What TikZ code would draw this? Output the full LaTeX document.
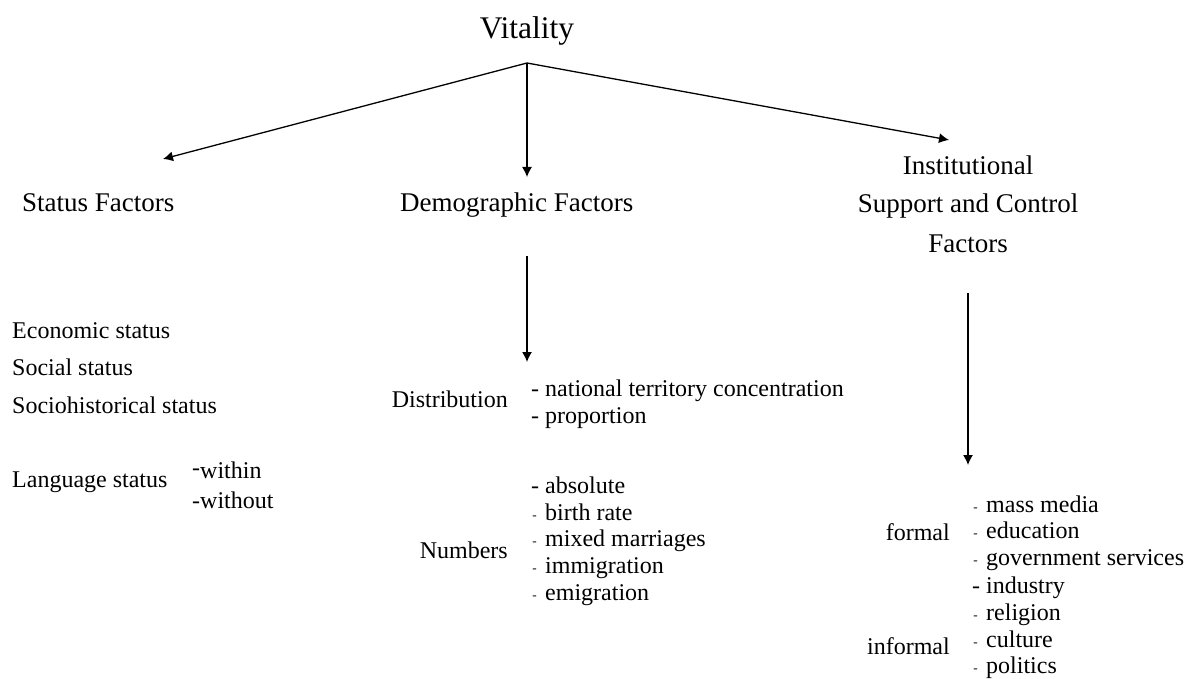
\documentclass[tikz,border=0pt]{standalone}
\usepackage{fontspec}
\setmainfont{Liberation Serif}
\usepackage{graphicx}
\usetikzlibrary{arrows.meta}
\newcommand\sdash{\makebox[0.583em][l]{\hspace{0.05em}\raisebox{0.02em}{\scalebox{0.55}{-}}}}
\tikzset{
  lbl/.style={inner sep=0pt, anchor=base west, font=\fontsize{24}{28}\selectfont},
  lble/.style={inner sep=0pt, anchor=base east, font=\fontsize{24}{28}\selectfont},
  head/.style={inner sep=0pt, anchor=base, font=\fontsize{27}{32}\selectfont},
  headw/.style={inner sep=0pt, anchor=base west, font=\fontsize{27}{32}\selectfont},
  arr/.style={line width=1.3pt, -{Latex[length=10pt,width=10pt]}},
}
\begin{document}
\begin{tikzpicture}[x=1pt,y=-1pt]
\useasboundingbox (0,0) rectangle (1186,679);
% title
\node[inner sep=0pt, anchor=base, font=\fontsize{31.5}{36}\selectfont] (vit) at (527,39) {Vitality};
\coordinate (apex) at (527,63);
\coordinate (tS) at (163,159);
\coordinate (tD) at (527,177);
\coordinate (tI) at (949,140);
% headings
\node[headw] (status) at (22,212) {Status Factors};
\node[headw] (demo) at (400,212) {Demographic Factors};
\node[head] (inst1) at (968,175) {Institutional};
\node[head] (inst2) at (968,213) {Support and Control};
\node[head] (inst3) at (968,252) {Factors};
% arrows from apex
\draw[arr] (apex) -- (tS);
\draw[arr] (apex) -- (tD);
\draw[arr] (apex) -- (tI);
% status list
\node[lbl] (econ) at (12,338) {Economic status};
\node[lbl] (soc) at (12,375) {Social status};
\node[lbl] (sochist) at (12,413) {Sociohistorical status};
\node[lbl] (lang) at (12,487) {Language status};
\node[lbl] (within) at (192,478) {\raisebox{0.12em}{-}within};
\node[lbl] (without) at (192,508) {-without};
% demographic
\coordinate (dA) at (527,256);
\coordinate (dB) at (527,362);
\draw[arr] (dA) -- (dB);
\node[lble] (distr) at (508,407) {Distribution};
\node[lbl] (nat) at (531,396) {- national territory concentration};
\node[lbl] (prop) at (531,423) {- proportion};
\node[lble] (numbers) at (508,558) {Numbers};
\node[lbl] (abs) at (531,493) {- absolute};
\node[lbl] (birth) at (531,520) {\sdash birth rate};
\node[lbl] (mixed) at (531,546) {\sdash mixed marriages};
\node[lbl] (immi) at (531,573) {\sdash immigration};
\node[lbl] (emi) at (531,600) {\sdash emigration};
% institutional
\coordinate (iA) at (968,293);
\coordinate (iB) at (968,465);
\draw[arr] (iA) -- (iB);
\node[lble] (formal) at (950,540) {formal};
\node[lble] (informal) at (950,654) {informal};
\node[lbl] (mass) at (972,512) {\sdash mass media};
\node[lbl] (edu) at (972,538) {\sdash education};
\node[lbl] (gov) at (972,565) {\sdash government services};
\node[lbl] (ind) at (972,593) {- industry};
\node[lbl] (rel) at (972,620) {\sdash religion};
\node[lbl] (cult) at (972,647) {\sdash culture};
\node[lbl] (pol) at (972,673) {\sdash politics};
\end{tikzpicture}
\end{document}
